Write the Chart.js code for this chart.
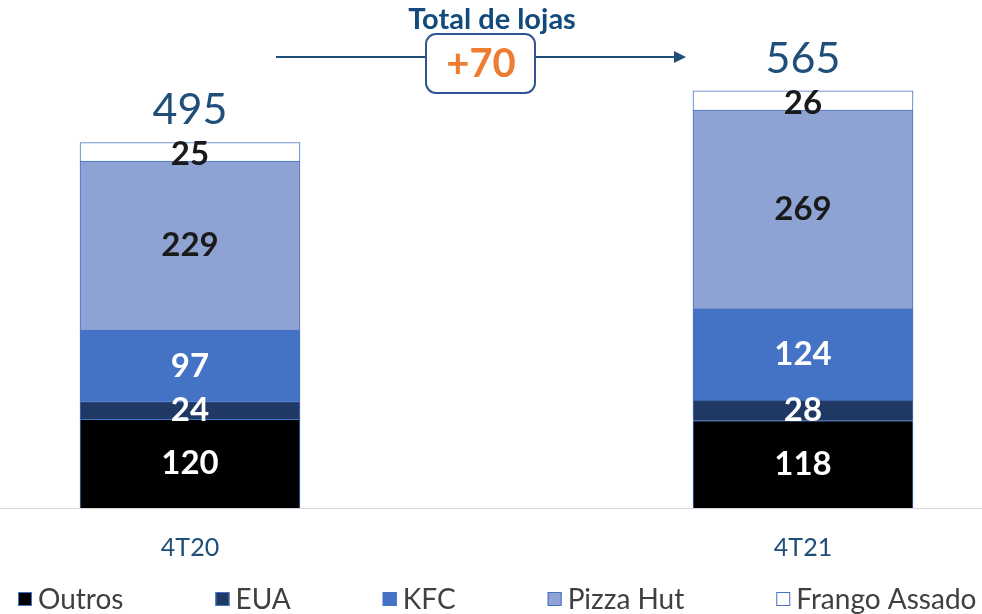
<!DOCTYPE html>
<html>
<head>
<meta charset="utf-8">
<script src="https://cdn.jsdelivr.net/npm/chart.js@4"></script>
<style>
  html, body { margin: 0; padding: 0; background: #fff; }
  #wrap { width: 982px; height: 614px; position: relative; }
</style>
</head>
<body>
<div id="wrap"><canvas id="lojas-chart" width="982" height="614"></canvas></div>
<script>
// Data
const periods = ["4T20", "4T21"];
const outros = [120, 118];
const eua = [24, 28];
const kfc = [97, 124];
const pizzaHut = [229, 269];
const frangoAssado = [25, 26];
const totals = [495, 565];

const FONT = "Lato, 'Open Sans', sans-serif";
const DARK_BLUE = "#1F4E79";

// Segment labels, totals, baseline, arrow box, legend
const overlayPlugin = {
  id: "overlay",
  beforeDatasetsDraw(chart) {
    const ctx = chart.ctx;
    const y0 = chart.scales.y.getPixelForValue(0);
    ctx.save();
    ctx.strokeStyle = "#D9D9D9";
    ctx.lineWidth = 1;
    ctx.beginPath();
    ctx.moveTo(0, y0 + 0.5);
    ctx.lineTo(chart.width, y0 + 0.5);
    ctx.stroke();
    ctx.restore();
  },
  afterDatasetsDraw(chart) {
    const ctx = chart.ctx;
    ctx.save();
    ctx.textAlign = "center";
    ctx.textBaseline = "middle";

    // segment values
    chart.data.datasets.forEach((ds, i) => {
      const meta = chart.getDatasetMeta(i);
      meta.data.forEach((bar, j) => {
        ctx.font = "bold 33px " + FONT;
        ctx.fillStyle = ds.labelColor;
        const yMid = (bar.y + bar.base) / 2;
        ctx.fillText(ds.data[j], bar.x, yMid + (ds.labelShift || 0));
      });
    });

    // totals on top
    const topMeta = chart.getDatasetMeta(chart.data.datasets.length - 1);
    topMeta.data.forEach((bar, j) => {
      ctx.font = "43px " + FONT;
      ctx.fillStyle = DARK_BLUE;
      ctx.fillText(totals[j], bar.x, bar.y - 32);
    });

    // title, arrow and difference box
    ctx.font = "bold 29px " + FONT;
    ctx.fillStyle = "#124A7C";
    ctx.fillText("Total de lojas", 492, 20);

    const ay = 57;
    ctx.strokeStyle = DARK_BLUE;
    ctx.lineWidth = 2;
    ctx.beginPath();
    ctx.moveTo(276, ay);
    ctx.lineTo(676, ay);
    ctx.stroke();
    ctx.fillStyle = DARK_BLUE;
    ctx.beginPath();
    ctx.moveTo(686, ay);
    ctx.lineTo(674, ay - 6);
    ctx.lineTo(674, ay + 6);
    ctx.closePath();
    ctx.fill();

    ctx.fillStyle = "#fff";
    ctx.strokeStyle = "#2F5597";
    ctx.lineWidth = 2;
    ctx.beginPath();
    ctx.roundRect(426, 34, 109, 59, 10);
    ctx.fill();
    ctx.stroke();
    ctx.font = "bold 40px " + FONT;
    ctx.fillStyle = "#ED7D31";
    ctx.fillText("+" + (totals[1] - totals[0]), 481, 64);

    // legend
    ctx.textAlign = "left";
    ctx.font = "28px " + FONT;
    let x = 18;
    const ly = 599;
    chart.data.datasets.forEach((ds) => {
      ctx.fillStyle = ds.backgroundColor;
      ctx.strokeStyle = "#4472C4";
      ctx.lineWidth = 1;
      ctx.fillRect(x, ly - 7, 14, 14);
      ctx.strokeRect(x + 0.5, ly - 6.5, 13, 13);
      ctx.fillStyle = "#404040";
      ctx.fillText(ds.label, x + 20, ly + 1);
      x += 20 + ctx.measureText(ds.label).width + 92;
    });
    ctx.restore();
  },
};

const barStyle = { borderColor: "#4472C4", borderWidth: 1, barThickness: 220, clip: false };

new Chart(document.getElementById("lojas-chart"), {
  type: "bar",
  data: {
    labels: periods,
    datasets: [
      { label: "Outros", data: outros, backgroundColor: "#000000", labelColor: "#fff", ...barStyle },
      { label: "EUA", data: eua, backgroundColor: "#203864", labelColor: "#fff", ...barStyle },
      { label: "KFC", data: kfc, backgroundColor: "#4472C4", labelColor: "#fff", ...barStyle },
      { label: "Pizza Hut", data: pizzaHut, backgroundColor: "#8FA2D4", labelColor: "#1a1a1a", ...barStyle },
      { label: "Frango Assado", data: frangoAssado, backgroundColor: "#FFFFFF", labelColor: "#1a1a1a", labelShift: 3, ...barStyle },
    ],
  },
  options: {
    responsive: false,
    animation: false,
    layout: { padding: { top: 0, left: 190, right: 179, bottom: 34 } },
    plugins: { legend: { display: false }, tooltip: { enabled: false } },
    scales: {
      x: {
        stacked: true,
        offset: false,
        grid: { display: false },
        border: { display: false },
        ticks: { color: DARK_BLUE, font: { family: FONT, size: 25 }, padding: 17 },
      },
      y: { stacked: true, display: false, min: 0, max: 688 },
    },
  },
  plugins: [overlayPlugin],
});
</script>
</body>
</html>
